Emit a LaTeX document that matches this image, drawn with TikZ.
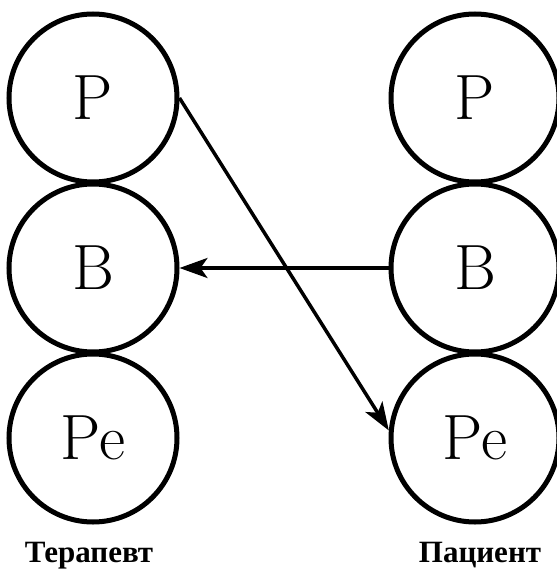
\documentclass[tikz,border=0pt]{standalone}
\usepackage{fontspec}
\newfontfamily\capfont{Liberation Serif}
\usetikzlibrary{arrows.meta}
\begin{document}
\begin{tikzpicture}[x=1pt,y=-1pt,
  ego/.style={circle,draw,line width=5pt,minimum size=168pt,inner sep=0pt,
    font=\fontsize{64}{64}\selectfont},
  who/.style={font=\capfont\fontsize{31}{31}\selectfont\bfseries,anchor=base},
  link/.style={line width=3.5pt,-{Stealth[length=28pt,width=20pt,inset=7pt]}}]
  \useasboundingbox (0,0) rectangle (556,569);
  % therapist column
  \node[ego] (tP)  at (93,98)  {P};
  \node[ego] (tB)  at (93,268) {B};
  \node[ego] (tPe) at (93,438) {Pe};
  % patient column
  \node[ego] (pP)  at (475,98)  {P};
  \node[ego] (pB)  at (475,268) {B};
  \node[ego] (pPe) at (475,438) {Pe};
  % captions
  \node[who] (tL) at (89,562)  {Терапевт};
  \node[who] (pL) at (480,562) {Пациент};
  % transactions
  \draw[link] (tP.east) -- (pPe.175);
  \draw[link] (pB.west) -- (tB.east);
\end{tikzpicture}
\end{document}
